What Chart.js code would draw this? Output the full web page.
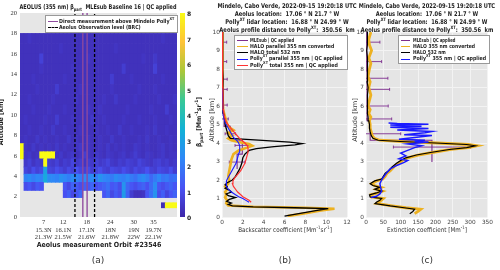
<!DOCTYPE html>
<html>
<head>
<meta charset="utf-8">
<script src="https://cdn.jsdelivr.net/npm/chart.js@4.4.1/dist/chart.umd.min.js"></script>
<style>
body { margin:0; width:500px; height:270px; background:#fff; position:relative; overflow:hidden; font-family:"DejaVu Sans", sans-serif; color:#222; }
canvas { position:absolute; }
.t { position:absolute; white-space:nowrap; z-index:2; transform:translate(-50%,-50%); }
.b { font-weight:bold; }
sub, sup { font-size:70%; line-height:0; }
.leg { position:absolute; background:#fff; border:0.6px solid #999; z-index:2; font-weight:bold; font-size:5.5px; }
.leg div { position:absolute; white-space:nowrap; transform-origin:left center; }
.leg span { position:absolute; height:0; }
.ttl { position:absolute; text-align:center; font-weight:bold; font-size:6.5px; line-height:8px; z-index:2; transform:translateX(-50%); white-space:nowrap; }
</style>
</head>
<body>
<canvas id="chartA" width="182" height="250" style="left:0;top:0"></canvas>
<canvas id="chartB" width="155" height="235" style="left:200px;top:0"></canvas>
<canvas id="chartC" width="150" height="235" style="left:345px;top:0"></canvas>

<div class="t b" data-w="157" data-t="translate(-50%,-50%)" style="left:98px;top:7px;font-size:6.5px">AEOLUS (355 nm) β<sub>part</sub> &nbsp;MLEsub Baseline 16 | QC applied</div>
<div class="leg" style="left:45px;top:15px;width:131px;height:16px">
  <span style="left:2px;width:10px;top:5px;border-top:1.5px solid #8e4a9e"></span><div data-w="115" style="left:13px;top:1.5px">Direct measurement above Mindelo Polly<sup>XT</sup></div>
  <span style="left:2px;width:10px;top:11px;border-top:1.4px dashed #000"></span><div data-w="82" style="left:13px;top:8px">Aeolus Observation level (BRC)</div>
</div>
<div id="cbar" style="position:absolute;left:180px;top:13px;width:5px;height:204px"></div>
<div id="cbarTicks"></div>
<div class="t b" data-w="50" data-t="translate(-50%,-50%) rotate(-90deg)" style="left:199px;top:122px;font-size:6.5px">β<sub>part</sub> [Mm<sup>-1</sup>sr<sup>-1</sup>]</div>
<div class="t b" data-w="46" data-t="translate(-50%,-50%) rotate(-90deg)" style="left:1px;top:122px;font-size:7px">Altitude [km]</div>
<div class="t b" data-w="125" data-t="translate(-50%,-50%)" style="left:99px;top:245px;font-size:7px">Aeolus measurement Orbit #23546</div>
<div class="t" style="left:98px;top:260px;font-size:9px;color:#333">(a)</div>

<div class="ttl" data-w="139" data-t="translateX(-50%)" style="left:287px;top:1.5px">Mindelo, Cabo Verde, 2022-09-15 19:20:18 UTC<br>Aeolus location: &nbsp;17.06 ° N 21.7 ° W<br>Polly<sup>XT</sup> lidar location: &nbsp;16.88 ° N 24.99 ° W<br>Aeolus profile distance to Polly<sup>XT</sup>: &nbsp;350.56 &nbsp;km</div>
<div class="leg" style="left:234px;top:35px;width:112px;height:33px">
  <span style="left:2px;width:11px;top:4px;border-top:1.3px solid #7e2f8e"></span><div data-w="44" style="left:15px;top:0.5px">MLEsub | QC applied</div>
  <span style="left:2px;width:11px;top:10px;border-top:1.3px solid #edb120"></span><div data-w="84" style="left:15px;top:6.5px">HALO parallel 355 nm converted</div>
  <span style="left:2px;width:11px;top:16px;border-top:1.3px solid #000"></span><div data-w="50" style="left:15px;top:12.5px">HALO total 532 nm</div>
  <span style="left:2px;width:11px;top:23px;border-top:1.3px solid #1a1aff"></span><div data-w="93" style="left:15px;top:19px">Polly<sup>XT</sup> parallel 355 nm | QC applied</div>
  <span style="left:2px;width:11px;top:29px;border-top:1.3px solid #ff3333"></span><div data-w="88" style="left:15px;top:25.5px">Polly<sup>XT</sup> total 355 nm | QC applied</div>
</div>
<div class="t" data-w="44" data-t="translate(-50%,-50%) rotate(-90deg)" style="left:212px;top:120px;font-size:6.5px;color:#333">Altitude [km]</div>
<div class="t" data-w="94" data-t="translate(-50%,-50%)" style="left:285px;top:230px;font-size:6.5px;color:#333">Backscatter coefficient [Mm<sup>-1</sup>sr<sup>-1</sup>]</div>
<div class="t" style="left:285px;top:260px;font-size:9px;color:#333">(b)</div>

<div class="ttl" data-w="136" data-t="translateX(-50%)" style="left:427px;top:1.5px">Mindelo, Cabo Verde, 2022-09-15 19:20:18 UTC<br>Aeolus location: &nbsp;17.06 ° N 21.7 ° W<br>Polly<sup>XT</sup> lidar location: &nbsp;16.88 ° N 24.99 ° W<br>Aeolus profile distance to Polly<sup>XT</sup>: &nbsp;350.56 &nbsp;km</div>
<div class="leg" style="left:398px;top:35px;width:90px;height:27px">
  <span style="left:2px;width:9px;top:4px;border-top:1.3px solid #7e2f8e"></span><div data-w="42" style="left:14px;top:0.5px">MLEsub | QC applied</div>
  <span style="left:2px;width:9px;top:10px;border-top:1.3px solid #edb120"></span><div data-w="62" style="left:14px;top:6.5px">HALO 355 nm converted</div>
  <span style="left:2px;width:9px;top:16px;border-top:1.3px solid #000"></span><div data-w="33" style="left:14px;top:12.5px">HALO 532 nm</div>
  <span style="left:2px;width:9px;top:22.5px;border-top:1.3px solid #1a1aff"></span><div data-w="73" style="left:14px;top:18.5px">Polly<sup>XT</sup> 355 nm | QC applied</div>
</div>
<div class="t" data-w="44" data-t="translate(-50%,-50%) rotate(-90deg)" style="left:355px;top:120px;font-size:6.5px;color:#333">Altitude [km]</div>
<div class="t" data-w="80" data-t="translate(-50%,-50%)" style="left:427px;top:230px;font-size:6.5px;color:#333">Extinction coefficient [Mm<sup>-1</sup>]</div>
<div class="t" style="left:427px;top:260px;font-size:9px;color:#333">(c)</div>

<script>
const _ = null;

// ---- panel (a): Aeolus curtain, profiles 1..40, altitude bins in km
const profiles = [1,2,3,4,5,6,7,8,9,10,11,12,13,14,15,16,17,18,19,20,21,22,23,24,25,26,27,28,29,30,31,32,33,34,35,36,37,38,39,40];
const orbitTicks = [7, 12, 18, 24, 30, 35];
const orbitLat = ['15.3N', '16.1N', '17.1N', '18N', '19N', '19.7N'];
const orbitLon = ['21.3W', '21.5W', '21.6W', '21.8W', '22W', '22.1W'];
const obsLevel = [15, 20];
const directProfile = [17, 18.1];

const binLo = [0.9, 1.9, 2.6, 3.4, 4.2, 4.9, 5.7, 6.4, 7.2, 8, 9, 10, 11, 12, 13, 14, 15, 16, 17];
const binHi = [1.4, 2.6, 3.4, 4.2, 4.9, 5.7, 6.4, 7.2, 8, 9, 10, 11, 12, 13, 14, 15, 16, 17, 18];

const bin0 = [_,_,_,_,_,_,_,_,_,_, _,_,_,_,_,_,_,_,_,_, _,_,_,_,_,_,_,_,_,_, _,_,_,_,_,_,0.2,8.5,8.5,8.5];
const bin1 = [_,_,_,_,_,_,_,_,_,_, _,1.1,1.4,0.9,1.2,1.6,_,_,_,_, _,1.2,1.6,0.9,1.3,1.0,2.8,1.5,0.6,0.3, 0.3,0.4,1.2,1.8,2.6,1.0,1.4,0.8,1.2,1.5];
const bin2 = [_,1.0,1.2,0.9,1.3,1.1,_,_,_,_, _,1.2,0.9,1.5,1.3,1.0,1.4,1.2,1.6,1.1, 1.3,1.5,1.8,1.2,1.4,1.0,2.6,1.6,1.2,1.0, 1.3,1.5,1.1,1.7,2.4,1.2,1.0,1.3,1.5,1.2];
const bin3 = [_,2.2,2.4,2.1,2.3,2.2,3.2,2.4,2.3,2.2, 2.5,2.3,2.1,2.4,2.2,2.0,2.3,2.2,2.4,2.1, 2.6,2.3,2.2,2.0,2.4,2.2,2.1,2.3,2.0,1.8, 2.2,2.4,2.1,1.6,2.0,2.3,1.9,2.0,1.7,1.8];
const bin4 = [_,0.8,0.6,1.0,0.7,0.9,3.0,0.8,0.7,1.0, 0.8,0.6,0.9,0.7,1.1,0.8,0.7,0.9,0.6,0.8, 1.0,0.7,0.6,0.9,0.8,0.7,1.0,0.8,0.6,0.9, 0.7,0.8,1.1,0.7,0.6,0.9,0.8,0.7,1.0,0.6];
const bin5 = [_,0.5,0.7,0.4,0.6,0.5,8.5,0.6,0.5,0.7, 0.4,0.6,0.5,0.8,0.5,0.6,0.4,0.6,0.5,0.7, 0.5,0.6,0.8,0.5,0.4,0.6,0.5,0.7,0.6,0.5, 0.8,0.6,0.5,0.4,0.6,0.7,0.5,0.6,0.4,0.5];
const bin6 = [8.5,0.4,0.5,0.3,0.4,8.5,8.5,8.5,8.5,0.4, 0.5,0.3,0.4,0.5,0.3,0.4,0.6,0.4,0.3,0.5, 0.4,0.3,0.5,0.4,0.3,0.4,0.5,0.3,0.4,0.6, 0.4,0.3,0.5,0.4,0.3,0.4,0.5,0.3,0.4,0.4];
const bin7 = [8.5,0.4,0.3,0.5,0.3,0.4,0.3,0.4,0.3,0.5, 0.3,0.4,0.3,0.3,0.4,0.5,0.3,0.4,0.3,0.3, 0.4,0.3,0.5,0.3,0.4,0.3,0.4,0.3,0.3,0.5, 0.4,0.3,0.4,0.3,0.3,0.4,0.5,0.3,0.4,0.3];
const bin8 = [0.3,0.4,0.3,0.3,0.5,0.3,0.4,0.3,0.3,0.4, 0.3,0.3,0.5,0.3,0.4,0.3,0.3,0.4,0.3,0.3, 0.4,0.3,0.3,0.5,0.3,0.3,0.4,0.3,0.3,0.3, 0.4,0.3,0.5,0.3,0.3,0.4,0.3,0.3,0.4,0.3];
const bin9 = [0.3,0.3,0.4,0.3,0.3,0.4,0.3,0.3,0.5,0.3, 0.3,0.4,0.3,0.3,0.3,0.4,0.3,0.3,0.3,0.4, 0.3,0.3,0.4,0.3,0.3,0.5,0.3,0.3,0.4,0.3, 0.3,0.3,0.4,0.3,0.5,0.3,0.3,0.4,0.3,0.3];
const bin10 = [0.3,0.4,0.3,0.3,0.3,0.3,0.4,0.3,0.3,0.6, 0.3,0.3,0.3,0.4,0.3,0.3,0.3,0.3,0.5,0.3, 0.3,0.4,0.3,0.3,0.3,0.3,0.4,0.3,0.3,0.3, 0.4,0.3,0.3,0.3,0.4,0.3,0.3,0.3,0.4,0.3];
const bin11 = [0.3,0.3,0.3,0.4,0.3,0.3,0.3,0.4,0.3,0.3, 0.3,0.4,0.3,0.3,0.3,0.3,0.3,0.4,0.3,0.3, 0.4,0.3,0.3,0.3,0.3,0.3,0.3,0.4,0.3,0.3, 0.3,0.3,0.3,0.4,0.3,0.3,0.3,0.6,0.3,0.3];
const bin12 = [0.3,0.3,0.4,0.3,0.3,0.3,0.3,0.3,0.4,0.3, 0.3,0.3,0.3,0.3,0.4,0.3,0.3,0.3,0.3,0.3, 0.3,0.4,0.3,0.3,0.5,0.3,0.3,0.3,0.3,0.4, 0.3,0.3,0.3,0.3,0.3,0.4,0.3,0.3,0.3,0.4];
const bin13 = [0.3,0.3,0.3,0.3,0.4,0.3,0.3,0.3,0.3,0.6, 0.3,0.3,0.3,0.3,0.3,0.4,0.3,0.3,0.3,0.3, 0.3,0.3,0.3,0.4,0.3,0.3,0.3,0.3,0.3,0.3, 0.4,0.3,0.3,0.3,0.4,0.3,0.3,0.3,0.3,0.3];
const bin14 = [0.3,0.3,0.3,0.4,0.3,0.3,0.3,0.3,0.3,0.3, 0.3,0.4,0.3,0.3,0.3,0.3,0.3,0.3,0.3,0.3, 0.3,0.3,0.3,0.6,0.3,0.3,0.3,0.3,0.4,0.3, 0.3,0.3,0.3,0.3,0.3,0.3,0.4,0.3,0.3,0.3];
const bin15 = [0.3,0.3,0.3,0.3,0.3,0.4,0.3,0.3,0.3,0.3, 0.3,0.3,0.3,0.4,0.3,0.3,0.3,0.3,0.3,0.3, 0.3,0.3,0.3,0.3,0.3,0.3,0.6,0.3,0.3,0.3, 0.3,0.3,0.3,0.3,0.7,0.3,0.3,0.3,0.3,0.3];
const bin16 = [0.3,0.3,0.3,0.3,0.3,0.7,0.3,0.3,0.3,0.3, 0.3,0.3,0.3,0.3,0.3,0.3,0.3,0.4,0.3,0.3, 0.3,0.3,0.3,0.3,0.3,0.3,0.3,0.3,0.3,0.3, 0.3,0.4,0.3,0.3,0.5,0.3,0.3,0.3,0.3,0.3];
const bin17 = [0.3,0.3,0.3,0.3,0.3,0.3,0.3,0.3,0.3,0.3, 0.4,0.3,0.3,0.3,0.3,0.3,0.3,0.3,0.3,0.3, 0.3,0.3,0.3,0.3,0.4,0.3,0.3,0.3,0.3,0.3, 0.3,0.3,0.3,0.3,0.3,0.3,0.3,0.3,0.3,0.3];
const bin18 = [0.3,0.3,0.4,0.3,0.3,0.3,0.3,0.3,0.3,0.3, 0.3,0.3,0.3,0.3,0.3,0.3,0.3,0.3,0.3,0.3, 0.3,0.3,0.3,0.3,0.3,0.3,0.3,0.3,0.3,0.3, 0.3,0.3,0.3,0.3,0.3,0.3,0.4,0.3,0.3,0.3];
const binRows = [bin0,bin1,bin2,bin3,bin4,bin5,bin6,bin7,bin8,bin9,bin10,bin11,bin12,bin13,bin14,bin15,bin16,bin17,bin18];
const cbarTicks = [0,1,2,3,4,5,6,7,8];

// ---- panel (b): backscatter profiles, Mm-1 sr-1 vs km
const halo532Alt = [0.05,0.2,0.35,0.45,0.5,0.55,0.6,0.68,0.75,0.85,0.95,1.05,1.15,1.25,1.35,1.45,1.55,1.65,1.75,1.85,2.0,2.2,2.4,2.6,2.9,3.2,3.4,3.5,3.6,3.7,3.8,3.9,3.97,4.05,4.15,4.25,4.4,4.6,4.8,5.0,5.3,5.6,6.0,6.5,7.0,7.5,8.0,8.5,9.0,9.5,10.0];
const halo532Bsc = [6.0,7.5,9.0,10.2,7.0,3.0,1.0,0.6,0.9,0.45,0.7,1.3,0.6,0.4,0.9,0.7,0.3,0.5,0.3,0.5,1.0,1.3,1.5,1.7,1.9,2.0,2.2,2.4,2.6,3.3,5.0,7.0,7.7,6.5,3.5,0.8,0.6,0.5,0.4,0.3,0.25,0.15,0.1,0.1,0.08,0.1,0.06,0.08,0.05,0.07,0.05];
const halo355Alt = [0.05,0.2,0.35,0.45,0.5,0.55,0.62,0.75,0.9,1.05,1.2,1.35,1.5,1.65,1.8,2.0,2.2,2.5,2.8,3.1,3.4,3.6,3.75,3.85,3.95,4.05,4.15,4.25,4.4,4.55,4.7,4.85,5.0,5.2,5.4,5.6,5.8,6.0,6.5,7.0,7.5,8.0,8.5,9.0,9.5,10.0];
const halo355Bsc = [6.3,8.0,9.5,10.8,8.0,3.0,0.6,0.4,0.5,0.3,0.4,0.3,0.5,0.3,0.6,0.7,0.6,0.7,0.8,0.9,1.1,1.6,2.4,2.9,2.6,1.6,0.9,0.6,1.0,0.6,1.1,0.7,0.5,0.4,0.3,0.2,0.1,0.1,0.05,0.05,0.05,0.05,0.05,0.05,0.05,0.05];
const pollyAlt = [0.8,0.9,1.0,1.1,1.2,1.35,1.5,1.65,1.8,1.95,2.1,2.3,2.5,2.7,2.9,3.1,3.3,3.5,3.7,3.85,4.0,4.15,4.3,4.5,4.7,4.9,5.1,5.3,5.5,5.8,6.2,6.6,7.0,7.5,8.0,8.5,9.0,9.5,10.0];
const pollyTotalBsc = [2.8,2.6,2.3,2.0,1.8,1.5,1.3,1.1,1.0,1.05,1.2,1.5,1.8,2.0,2.2,2.3,2.4,2.5,2.5,2.45,2.2,1.9,1.6,1.3,1.0,0.7,0.45,0.3,0.2,0.15,0.1,0.1,0.08,0.05,0.05,0.05,0.05,0.05,0.05];
const pollyParBsc = [2.6,2.3,2.0,1.6,1.3,0.9,0.6,0.45,0.4,0.45,0.55,0.75,0.95,1.15,1.35,1.45,1.55,1.65,1.7,1.7,1.6,1.4,1.1,0.9,0.7,0.5,0.3,0.2,0.15,0.1,0.08,0.06,0.05,0.04,0.04,0.04,0.04,0.04,0.04];
const mleLoB = [2.6,3.4,4.15,4.9,5.65,6.4,7.2,7.9,8.9];
const mleHiB = [3.4,4.15,4.9,5.65,6.4,7.2,7.9,8.9,10.0];
const mleErrAltB = [2.97,3.87,4.5,5.3,6.05,6.9,7.45,8.4,9.45];
const mleBsc = [1.45,1.95,0.8,0.2,0.05,0.05,0.05,0.05,0.05];
const mleBscErr = [0.75,0.7,0.5,0.4,0.45,0.45,0.45,0.4,0.4];

// ---- panel (c): extinction profiles, Mm-1 vs km
const haloExtAlt = [0.18,0.3,0.42,0.5,0.6,0.73,0.8,0.9,1.0,1.08,1.2,1.3,1.4,1.5,1.6,1.7,1.8,1.95,2.05,2.2,2.35,2.5,2.7,2.9,3.05,3.2,3.35,3.5,3.65,3.75,3.85,3.92,4.0,4.08,4.15,4.25,4.4,4.6,4.8,5.0,5.2,5.4,5.6,5.8,6.0,6.3,6.6,7.0,7.3,7.6,8.0,8.3,8.6,9.0,9.3,9.6,10.0];
const halo532Ext = [126,135,140,110,70,26,30,40,45,12,10,30,45,25,40,20,12,25,45,50,55,65,75,88,100,115,145,190,240,290,315,290,200,100,35,20,15,12,10,10,8,6,4,5,3,5,4,6,3,5,4,3,5,2,4,3,5];
const halo355Ext = [140,150,158,115,75,30,35,44,50,16,14,35,48,30,44,24,16,30,48,55,60,70,80,92,105,120,150,195,245,295,320,295,205,105,40,24,18,15,12,12,10,14,8,12,6,10,14,8,12,6,10,14,8,16,10,8,14];
const pollyExtAlt = [1.05,1.12,1.25,1.4,1.6,1.8,2.0,2.15,2.35,2.6,2.8,2.95,3.05,3.15,3.3,3.45,3.6,3.75,3.85,3.95,4.05,4.1,4.15,4.2,4.3,4.4,4.45,4.55,4.62,4.7,4.78,4.85,4.9,4.97,5.02,5.05,5.08];
const pollyExt = [15,30,40,45,42,40,45,50,58,70,90,110,120,95,115,100,120,140,160,120,180,140,170,95,140,190,110,170,190,90,180,70,160,70,180,90,65];
const mleLoC = [2.97,4.15,5.2,5.65,6.4,7.2,7.9,8.9];
const mleHiC = [4.15,5.2,5.65,6.4,7.2,7.9,8.9,10.0];
const mleErrAltC = [3.78,4.5,5.3,6.0,6.9,7.5,8.4,9.45];
const mleExt = [190,12,3,3,3,3,2,2];
const mleExtErr = [111,88,71,61,65,60,43,38];

// squeeze the html labels to the widths they have in the figure
document.querySelectorAll('[data-w]').forEach(el => {
    const s = parseFloat(el.dataset.w) / el.offsetWidth;
    el.style.transform = (el.dataset.t || '') + ' scaleX(' + s.toFixed(3) + ')';
});

// parula-like colormap for the curtain
const parulaStops = [[62,38,168],[72,82,244],[46,135,247],[18,177,214],[55,200,151],[171,199,57],[254,195,56],[249,251,21]];
function parula(v) {
    const t = Math.max(0, Math.min(1, v / 8)) * 7;
    const i = Math.min(6, Math.floor(t));
    const f = t - i;
    const a = parulaStops[i], b = parulaStops[i + 1];
    return 'rgb(' + a.map((c, k) => Math.round(c + (b[k] - c) * f)).join(',') + ')';
}

document.getElementById('cbar').style.background =
    'linear-gradient(to top,' + parulaStops.map(c => 'rgb(' + c.join(',') + ')').join(',') + ')';
document.getElementById('cbarTicks').innerHTML = cbarTicks.map(v =>
    '<div class="t b" style="left:189px;top:' + (217 - v * 25.5) + 'px;font-size:6px">' + v + '</div>').join('');

const areaBg = {
    id: 'areaBg',
    beforeDraw(chart, args, opts) {
        const { ctx, chartArea: a } = chart;
        ctx.save();
        ctx.fillStyle = opts.color;
        ctx.fillRect(a.left, a.top, a.width, a.height);
        ctx.restore();
    }
};

function pts(xs, ys) { return xs.map((x, i) => ({ x: x, y: ys[i] })); }
function stepPts(lo, hi, vals) {
    const out = [];
    vals.forEach((v, i) => { out.push({ x: v, y: lo[i] }, { x: v, y: hi[i] }); });
    return out;
}
function errPts(alt, vals, errs, cap) {
    const out = [];
    vals.forEach((v, i) => {
        const a = alt[i], l = v - errs[i], r = v + errs[i];
        out.push({ x: l, y: a }, { x: r, y: a }, { x: null, y: null },
                 { x: l, y: a - cap }, { x: l, y: a + cap }, { x: null, y: null },
                 { x: r, y: a - cap }, { x: r, y: a + cap }, { x: null, y: null });
    });
    return out;
}
function vline(x, y0, y1) { return [{ x: x, y: y0 }, { x: x, y: y1 }]; }

const commonOpts = {
    responsive: false,
    animation: false,
    events: [],
    plugins: { legend: { display: false }, tooltip: { enabled: false } },
};

// ---- chart (a)
const heatSets = binRows.map((row, r) => {
    const cells = profiles.map((p, i) => ({ p: p, v: row[i] })).filter(c => c.v !== null);
    return {
        type: 'bar',
        data: cells.map(c => ({ x: c.p + 0.5, y: [binLo[r], binHi[r]] })),
        backgroundColor: cells.map(c => parula(c.v)),
        borderWidth: 0,
        grouped: false,
        barPercentage: 1,
        categoryPercentage: 1,
        order: 5,
    };
});
const lineSetsA = [
    ...directProfile.map(x => ({ type: 'line', data: vline(x, 0, 20), borderColor: 'rgba(142,74,158,0.85)', borderWidth: 1.6, pointRadius: 0, order: 1 })),
    ...obsLevel.map(x => ({ type: 'line', data: vline(x, 0, 20), borderColor: '#000', borderWidth: 1.3, borderDash: [3, 2], pointRadius: 0, order: 0 })),
];

new Chart(document.getElementById('chartA'), {
    type: 'bar',
    data: { datasets: [...heatSets, ...lineSetsA] },
    options: {
        ...commonOpts,
        layout: { padding: { top: 13, right: 5, left: 0, bottom: 0 } },
        plugins: { ...commonOpts.plugins, areaBg: { color: '#e6e6e6' } },
        scales: {
            x: {
                type: 'linear', min: 1, max: 41, offset: false,
                afterBuildTicks(s) { s.ticks = orbitTicks.map(v => ({ value: v })); },
                afterFit(s) { s.height = 33; },
                ticks: {
                    autoSkip: false, maxRotation: 0, padding: 2, color: '#333',
                    font: { family: 'Liberation Serif', size: 6.5, lineHeight: 1.15 },
                    callback(v) { const i = orbitTicks.indexOf(v); return [String(v), orbitLat[i], orbitLon[i]]; }
                },
                grid: { display: false, drawTicks: false }, border: { display: false },
            },
            y: {
                min: 0, max: 20,
                afterFit(s) { s.width = 20; },
                ticks: { stepSize: 2, padding: 3, color: '#333', font: { family: 'Liberation Serif', size: 6.5 } },
                grid: { display: false, drawTicks: false }, border: { display: false },
            }
        }
    },
    plugins: [areaBg]
});

// ---- profile charts (b), (c)
function profileScales(xMax, xStep, yWidth) {
    return {
        x: {
            type: 'linear', min: 0, max: xMax,
            afterFit(s) { s.height = 18; },
            ticks: { stepSize: xStep, padding: 2, maxRotation: 0, color: '#444', font: { family: 'DejaVu Sans', size: 5.8 } },
            grid: { color: '#f3f3f3', drawTicks: false }, border: { display: false },
        },
        y: {
            min: 0, max: 10,
            afterFit(s) { s.width = yWidth; },
            ticks: { stepSize: 1, padding: 2, color: '#444', font: { family: 'DejaVu Sans', size: 5.8 } },
            grid: { color: '#f3f3f3', drawTicks: false }, border: { display: false },
        }
    };
}
function line(data, color, width, order) {
    return { data: data, showLine: true, borderColor: color, borderWidth: width, pointRadius: 0, spanGaps: false, order: order };
}

new Chart(document.getElementById('chartB'), {
    type: 'scatter',
    data: {
        datasets: [
            line(pts(pollyTotalBsc, pollyAlt), '#ff3333', 1.2, 0),
            line(pts(pollyParBsc, pollyAlt), '#1a1aff', 1.1, 1),
            line(pts(halo532Bsc, halo532Alt), '#000', 1.3, 2),
            line(pts(halo355Bsc, halo355Alt), '#edb120', 2.6, 3),
            line(stepPts(mleLoB, mleHiB, mleBsc), '#7e2f8e', 1.1, 4),
            line(errPts(mleErrAltB, mleBsc, mleBscErr, 0.08), '#7e2f8e', 0.9, 4),
        ]
    },
    options: {
        ...commonOpts,
        layout: { padding: { top: 32, right: 8, left: 0, bottom: 0 } },
        plugins: { ...commonOpts.plugins, areaBg: { color: '#e5e5e5' } },
        scales: profileScales(12, 2, 22),
    },
    plugins: [areaBg]
});

new Chart(document.getElementById('chartC'), {
    type: 'scatter',
    data: {
        datasets: [
            line(pts(pollyExt, pollyExtAlt), '#1a1aff', 1.5, 0),
            line(pts(halo532Ext, haloExtAlt), '#000', 1.2, 1),
            line(pts(halo355Ext, haloExtAlt), '#edb120', 2.8, 2),
            line(stepPts(mleLoC, mleHiC, mleExt), '#7e2f8e', 1.1, 3),
            line(errPts(mleErrAltC, mleExt, mleExtErr, 0.08), '#7e2f8e', 0.9, 3),
        ]
    },
    options: {
        ...commonOpts,
        layout: { padding: { top: 32, right: 7, left: 0, bottom: 0 } },
        plugins: { ...commonOpts.plugins, areaBg: { color: '#e5e5e5' } },
        scales: profileScales(350, 50, 21),
    },
    plugins: [areaBg]
});
</script>
</body>
</html>
